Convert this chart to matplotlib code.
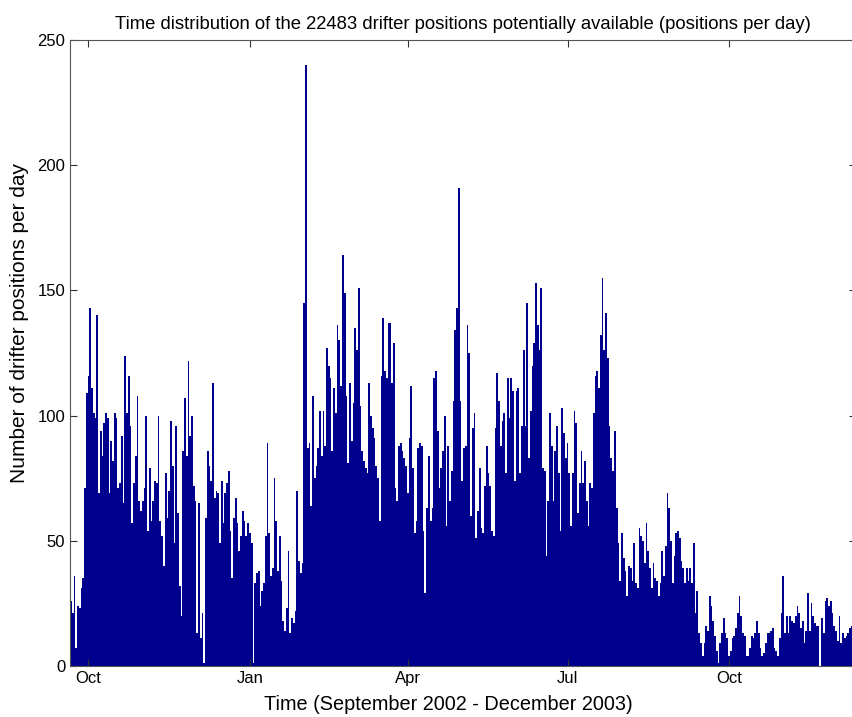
import numpy as np
import pandas as pd
import matplotlib
matplotlib.use("Agg")
import matplotlib.pyplot as plt
import matplotlib.dates as mdates

plt.rcParams['font.family'] = ['Liberation Sans', 'DejaVu Sans']

# daily counts, first day 21 Sep 2002
start_day = "2002-09-21"
counts_sep_oct_2002 = [26, 21, 36, 7, 24, 23, 31, 35, 71, 109, 116, 143, 111, 101, 99, 140, 69, 94, 84, 97,
                       101, 99, 69, 90, 82, 101, 99, 71, 73, 92, 65, 124, 101, 116, 96, 57, 73, 84, 108, 66]
counts_nov_dec_2002 = [62, 66, 71, 100, 54, 79, 58, 66, 74, 73, 100, 58, 52, 40, 77, 59, 70, 98, 80, 49,
                       96, 61, 32, 20, 86, 107, 84, 122, 92, 100, 72, 66, 13, 65, 11, 21, 1, 59, 86, 80]
counts_dec_jan = [74, 113, 67, 70, 69, 49, 74, 57, 69, 73, 78, 54, 35, 59, 67, 57, 46, 52, 62, 58,
                  52, 57, 53, 49, 1, 33, 37, 38, 24, 30, 33, 52, 89, 53, 36, 39, 75, 58, 38, 52]
counts_jan_feb = [34, 18, 14, 23, 46, 13, 19, 17, 22, 70, 42, 37, 41, 145, 240, 87, 89, 64, 108, 75,
                  80, 87, 102, 84, 102, 88, 127, 120, 115, 86, 111, 101, 136, 130, 112, 164, 149, 108, 81, 113]
counts_mar_apr = [90, 105, 135, 126, 151, 104, 86, 82, 79, 77, 113, 100, 95, 91, 80, 75, 58, 116, 139, 118,
                  115, 137, 137, 113, 129, 71, 66, 88, 89, 86, 83, 80, 69, 91, 112, 79, 53, 58, 87, 89]
counts_apr_may = [88, 54, 29, 63, 84, 58, 63, 115, 118, 94, 71, 79, 86, 100, 56, 88, 66, 78, 106, 134,
                  143, 191, 106, 74, 87, 88, 136, 125, 60, 95, 101, 51, 62, 79, 55, 53, 72, 88, 77, 72]
counts_may_jun = [54, 52, 95, 117, 106, 88, 98, 101, 77, 115, 99, 115, 110, 74, 110, 111, 77, 96, 126, 96,
                  145, 83, 102, 120, 129, 153, 136, 126, 151, 79, 78, 44, 66, 101, 88, 66, 86, 96, 77, 54]
counts_jul_aug = [103, 93, 83, 89, 77, 56, 77, 102, 97, 61, 73, 86, 73, 82, 66, 56, 73, 71, 101, 116,
                  118, 111, 132, 155, 126, 141, 123, 96, 83, 78, 94, 63, 49, 34, 53, 43, 38, 28, 40, 39]
counts_aug_sep = [34, 49, 33, 31, 55, 52, 50, 41, 57, 46, 39, 31, 41, 35, 34, 28, 33, 46, 36, 48,
                  69, 63, 50, 33, 44, 53, 54, 51, 42, 39, 33, 39, 34, 39, 33, 49, 21, 30, 13, 9]
counts_sep_oct_2003 = [4, 9, 16, 14, 28, 24, 18, 12, 6, 1, 9, 13, 19, 13, 11, 4, 6, 11, 12, 15,
                       21, 28, 20, 13, 12, 4, 4, 7, 12, 11, 13, 18, 13, 7, 4, 5, 9, 13, 13, 14]
counts_oct_dec_2003 = [15, 7, 6, 4, 11, 21, 36, 13, 20, 13, 20, 18, 17, 20, 24, 21, 15, 18, 9, 14,
                       29, 14, 25, 20, 17, 16, 16, 0, 19, 13, 26, 27, 24, 26, 21, 16, 14, 10, 20, 9,
                       13, 11, 12, 13, 15, 16]

tick_dates = ["2002-10-01", "2003-01-01", "2003-04-01", "2003-07-01", "2003-10-01"]

counts = np.concatenate([counts_sep_oct_2002, counts_nov_dec_2002, counts_dec_jan, counts_jan_feb,
                         counts_mar_apr, counts_apr_may, counts_may_jun, counts_jul_aug,
                         counts_aug_sep, counts_sep_oct_2003, counts_oct_dec_2003])
days = pd.date_range(start_day, periods=len(counts), freq="D")
x = mdates.date2num(days)

fig = plt.figure(figsize=(8.52, 7.17), dpi=100)
ax = fig.add_axes([70 / 852, 51 / 717, (856 - 70) / 852, 626 / 717])

ax.bar(x, counts, width=1.0, color="#00008f", linewidth=0, align="center")

ax.set_xlim(x[0] - 0.5, x[0] - 0.5 + 447.9)
ax.set_ylim(0, 250)
ax.set_yticks(np.arange(0, 251, 50))
ax.set_xticks(mdates.date2num(pd.to_datetime(tick_dates)))
ax.xaxis.set_major_formatter(mdates.DateFormatter("%b"))

ax.tick_params(direction="in", top=True, right=True, length=5, width=0.8,
               labelsize=12, colors="#333333", labelcolor="black")
for s in ax.spines.values():
    s.set_color("#555555")
    s.set_linewidth(0.8)

ax.set_title("Time distribution of the 22483 drifter positions potentially available (positions per day)",
             fontsize=13.3, pad=8)
ax.set_xlabel("Time (September 2002 - December 2003)", fontsize=14.3)
ax.set_ylabel("Number of drifter positions per day", fontsize=15)
ax.xaxis.set_label_coords(0.481, -0.047)
ax.yaxis.set_label_coords(-0.052, 0.548)

fig.savefig("out.png", dpi=100)
